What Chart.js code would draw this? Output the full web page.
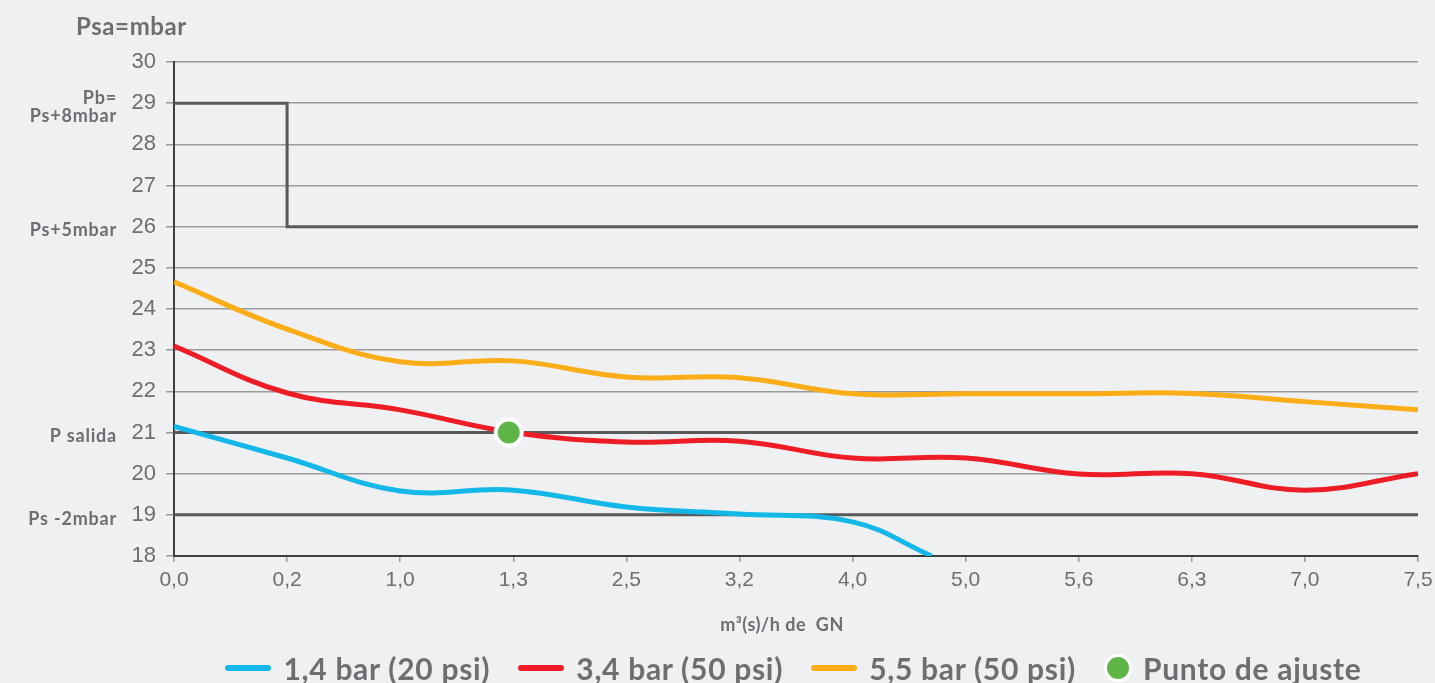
<!DOCTYPE html>
<html>
<head>
<meta charset="utf-8">
<script src="https://cdn.jsdelivr.net/npm/chart.js@4.4.0/dist/chart.umd.min.js"></script>
<style>
  html, body { margin: 0; padding: 0; background: #eff0f2; }
  #wrap { position: relative; width: 1435px; height: 683px; }
  #legend {
    position: absolute; left: 0; top: 649px; width: 1435px; height: 38px;
    padding-left: 152px; box-sizing: border-box;
    display: flex; justify-content: center; align-items: center;
    font-family: Lato, sans-serif; font-weight: 700; font-size: 30px; letter-spacing: 0.7px; color: #6d6e71;
  }
  .item { display: flex; align-items: center; margin: 0 14px 0 14px; }
  .swatch { width: 46px; height: 6px; border-radius: 3px; margin-right: 12px; }
  .dot { width: 22px; height: 22px; border-radius: 50%; border: 3px solid #fff; margin-right: 11px; }
</style>
</head>
<body>
<div id="wrap">
  <canvas id="chart" width="1435" height="683"></canvas>
  <div id="legend"></div>
</div>
<script>
// x categories (evenly spaced on the axis)
const xLabels = ['0,0', '0,2', '1,0', '1,3', '2,5', '3,2', '4,0', '5,0', '5,6', '6,3', '7,0', '7,5'];
const xTitle = 'm³(s)/h de  GN';
const yTitle = 'Psa=mbar';
const seriesNames = ['1,4 bar (20 psi)', '3,4 bar (50 psi)', '5,5 bar (50 psi)'];
const seriesColors = ['#13b8e8', '#ee1d25', '#fbad18'];

// 1,4 bar curve stops where it hits 18
const lowX = [0, 1, 2, 3, 4, 5, 6, 6.7];
const low = [21.15, 20.38, 19.58, 19.6, 19.19, 19.02, 18.83, 18.0];
const mid = [23.1, 21.96, 21.55, 21.0, 20.77, 20.79, 20.38, 20.38, 19.99, 20.0, 19.6, 20.0];
const high = [24.66, 23.51, 22.72, 22.74, 22.35, 22.33, 21.94, 21.94, 21.94, 21.95, 21.75, 21.55];

// reference lines
const stepX = [0, 1, 11];
const stepY = [29, 26, 26];
const pSalida = 21;
const psMinus2 = 19;

const adjustLabel = 'Punto de ajuste';
const adjustX = 2.96;
const adjustY = 21;

const sideLabels = [
  { value: 29, lines: ['Pb=', 'Ps+8mbar'] },
  { value: 26, lines: ['Ps+5mbar'] },
  { value: 21, lines: ['P salida'] },
  { value: 19, lines: ['Ps -2mbar'] }
];

const gray = '#6d6e71';
const dark = '#58595b';

function pts(xs, ys) {
  return ys.map((y, i) => ({ x: xs[i], y: y }));
}
const idx = xLabels.map((l, i) => i);

function curve(label, data, color) {
  return {
    label: label, data: data, borderColor: color, borderWidth: 5,
    pointRadius: 0, tension: 0.4, order: 1, fill: false
  };
}
function refLine(label, data, stepped) {
  return {
    label: label, data: data, borderColor: dark, borderWidth: 3,
    pointRadius: 0, stepped: stepped, order: 5, fill: false
  };
}

const sideText = {
  id: 'sideText',
  afterDraw(chart) {
    const ctx = chart.ctx;
    const y = chart.scales.y;
    const x = chart.scales.x;
    ctx.save();
    ctx.fillStyle = gray;
    ctx.textBaseline = 'middle';
    ctx.textAlign = 'left';
    ctx.letterSpacing = '0.6px';
    ctx.font = 'bold 24px Lato';
    ctx.fillText(yTitle, 76, 27);
    ctx.textAlign = 'right';
    ctx.letterSpacing = '0.8px';
    ctx.font = 'bold 18px Lato';
    sideLabels.forEach(s => {
      const cy = y.getPixelForValue(s.value) + 4;
      const n = s.lines.length;
      s.lines.forEach((t, i) => {
        ctx.fillText(t, 117, cy + (i - (n - 1) / 2) * 18);
      });
    });
    ctx.textAlign = 'center';
    ctx.letterSpacing = '0.5px';
    ctx.font = 'bold 18px Lato';
    ctx.fillText(xTitle, (x.left + x.right) / 2 - 14, 625);
    ctx.restore();
  }
};

new Chart(document.getElementById('chart').getContext('2d'), {
  type: 'line',
  data: {
    datasets: [
      {
        label: adjustLabel, data: [{ x: adjustX, y: adjustY }], showLine: false,
        pointRadius: 13, pointBackgroundColor: '#5fb546', pointBorderColor: '#ffffff',
        pointBorderWidth: 4, order: 0
      },
      curve(seriesNames[0], pts(lowX, low), seriesColors[0]),
      curve(seriesNames[1], pts(idx, mid), seriesColors[1]),
      curve(seriesNames[2], pts(idx, high), seriesColors[2]),
      refLine('Pb', pts(stepX, stepY), true),
      refLine('P salida', [{ x: 0, y: pSalida }, { x: 11, y: pSalida }], false),
      refLine('Ps -2mbar', [{ x: 0, y: psMinus2 }, { x: 11, y: psMinus2 }], false)
    ]
  },
  options: {
    responsive: false,
    animation: false,
    layout: { padding: { top: 62, right: 17, bottom: 45, left: 0 } },
    scales: {
      x: {
        type: 'linear', min: 0, max: 11,
        afterFit: s => { s.height = 82; s.paddingRight = 0; s.paddingLeft = 0; },
        ticks: {
          stepSize: 1, autoSkip: false, maxRotation: 0, padding: 6,
          color: gray, font: { family: 'Liberation Sans', size: 21 },
          callback: v => xLabels[v]
        },
        grid: { drawOnChartArea: false, tickLength: 6, color: '#9a9a9a', lineWidth: 1.5 },
        border: { color: '#3f3f3f', width: 2 }
      },
      y: {
        min: 18, max: 30,
        afterFit: s => { s.width = 174; },
        ticks: {
          stepSize: 1, padding: 10, color: gray,
          font: { family: 'Liberation Sans', size: 22 }
        },
        grid: { color: '#9a9a9a', lineWidth: 1.5, tickLength: 8 },
        border: { color: '#3f3f3f', width: 2 }
      }
    },
    plugins: {
      legend: { display: false },
      tooltip: { enabled: false }
    }
  },
  plugins: [sideText]
});

// legend below the chart
const legend = document.getElementById('legend');
seriesNames.forEach((name, i) => {
  const item = document.createElement('div');
  item.className = 'item';
  item.innerHTML = '<span class="swatch" style="background:' + seriesColors[i] + '"></span><span>' + name + '</span>';
  legend.appendChild(item);
});
const dotItem = document.createElement('div');
dotItem.className = 'item';
dotItem.innerHTML = '<span class="dot" style="background:#5fb546"></span><span>' + adjustLabel + '</span>';
legend.appendChild(dotItem);
</script>
</body>
</html>
